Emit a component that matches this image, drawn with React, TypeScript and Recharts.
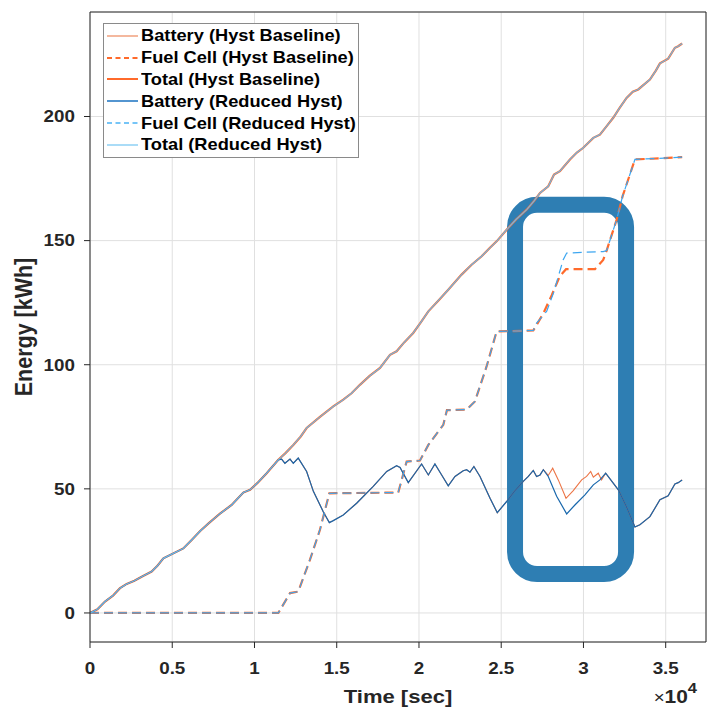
import React from "react";
import {
  LineChart,
  Line,
  XAxis,
  YAxis,
  CartesianGrid,
  Legend,
  ReferenceArea,
} from "recharts";

// [time (s), energy (kWh)]
const totalEnergy: [number, number][] = [
  [0, 0], [450, 1.5], [912, 4.6], [1400, 7], [1824, 10], [2230, 11.7], [2700, 13],
  [3140, 14.6], [3750, 16.7], [4100, 19], [4460, 22], [5065, 24], [5670, 26],
  [6180, 29.4], [6700, 33], [7190, 36], [7900, 40], [8610, 43.5], [9320, 48.5],
  [9730, 49.6], [10200, 52.5], [10740, 56.3], [11450, 61.7], [11900, 64.5],
  [12360, 67.7], [12800, 71], [13170, 74.5], [13980, 79], [14790, 83.2],
  [15400, 85.9], [15900, 88.5], [16410, 91.9], [17000, 95.5], [17630, 98.7],
  [18240, 104], [18640, 105.4], [19100, 109], [19650, 112.8], [20100, 117],
  [20570, 121.5], [21200, 126], [21780, 130.2], [22590, 136.3], [23200, 140.3],
  [23810, 143.7], [24300, 147], [24720, 149.7], [25330, 154.4], [25900, 158.5],
  [26550, 162.5], [27000, 166], [27360, 169.2], [27860, 171.9], [28210, 176.6],
  [28570, 178], [29180, 182.7], [29600, 185.5], [29990, 187.4], [30600, 191.4],
  [31000, 192.7], [31400, 196], [31810, 199.5], [32200, 203.5], [32620, 207.5],
  [33000, 210], [33330, 210.9], [34040, 214.9], [34400, 218.5], [34650, 221.4],
  [35150, 223.3], [35560, 227.7], [35760, 228.3], [36000, 229.4],
];

// battery after the fuel cell switches on (reduced hysteresis)
const batteryAfterFuelCell: [number, number][] = [
  [11450, 61.7], [11650, 62], [11850, 60.3], [12160, 62], [12360, 60.3],
  [12660, 62.4], [13170, 57], [13580, 49], [14180, 40.8], [14550, 36.4],
  [14790, 37.2], [15400, 39.5], [16210, 44.2], [17220, 51], [18040, 57],
  [18640, 59.3], [18850, 58.6], [19350, 52.5], [20160, 60], [20570, 55.6],
  [20970, 60], [21380, 55.6], [21780, 51.2], [22190, 55], [22690, 57.3],
  [22900, 57.7], [23100, 56.7], [23340, 59], [23710, 55], [24320, 46.2],
  [24760, 40.4], [25330, 44.9], [25800, 49], [26340, 53], [26650, 55],
  [26950, 57.4], [27150, 55], [27360, 55.6], [27560, 57.7], [27860, 55],
  [28370, 47], [28980, 39.9], [29480, 43.5], [30090, 47.6], [30600, 51.6],
  [31000, 53.6], [31350, 56.3], [31810, 52.3], [32120, 49.6], [32600, 43],
  [33130, 34.6], [33430, 35.5], [34040, 38.8], [34650, 45.6], [35150, 47.2],
  [35560, 52], [35760, 52.5], [36000, 53.6],
];

// where the baseline battery differs from the reduced one
const batteryBaselineDiff: [number, number][] = [
  [27560, 57.7], [27860, 55.4], [28130, 58.3], [28470, 53.6], [28940, 46.2],
  [29380, 49.3], [29890, 53.6], [30190, 55], [30440, 57], [30600, 54.7],
  [30900, 56.3], [31100, 53.6], [31350, 56.3],
];

const fuelCellShared: [number, number][] = [
  [0, 0], [11450, 0], [12160, 8], [12660, 8.6], [13370, 21.4], [13980, 33.5],
  [14550, 48.2], [18740, 48.5], [19250, 61], [20060, 61.4], [20570, 67.7],
  [21480, 75.8], [21700, 81.7], [22900, 81.9], [23400, 85.2], [24110, 99.3],
  [24720, 113.4], [26950, 113.8],
];
const fuelCellBaselineMid: [number, number][] = [
  [27150, 116], [27560, 120.7], [28070, 128], [28570, 135.7], [28940, 138.5],
  [30700, 138.5], [31200, 142.2],
];
const fuelCellReducedMid: [number, number][] = [
  [27150, 116.8], [27760, 121.5], [28170, 128.8], [28770, 142.3], [28980, 145],
  [31200, 145.6],
];
const fuelCellTail: [number, number][] = [
  [31410, 146], [32020, 158.5], [32380, 167.9], [33130, 182.7], [36000, 183.6],
];

const xTicks = [0, 5000, 10000, 15000, 20000, 25000, 30000, 35000];
const yTicks = [0, 50, 100, 150, 200];

const toRows = (pts: [number, number][]) => pts.map(([t, e]) => ({ t, e }));

const batteryReduced = [
  ...totalEnergy.filter(([t]) => t < 11450),
  ...batteryAfterFuelCell,
];
const batteryBaseline = [
  ...batteryReduced.filter(([t]) => t < 27560),
  ...batteryBaselineDiff,
  ...batteryReduced.filter(([t]) => t > 31350),
];
const fuelBaseline = [...fuelCellShared, ...fuelCellBaselineMid, ...fuelCellTail];
const fuelReduced = [...fuelCellShared, ...fuelCellReducedMid, ...fuelCellTail];

const FONT = "'Liberation Sans', Arial, sans-serif";
const AXIS = "#262626";
const X_DOMAIN = [0, 37450];
const Y_DOMAIN = [-11.7, 242.1];

// drawn in this order, last on top
const series = [
  { name: "Battery (Hyst Baseline)", color: "#EC7445", width: 1.1, dash: undefined, legendColor: "#F0A07E", data: batteryBaseline },
  { name: "Fuel Cell (Hyst Baseline)", color: "#FF6A2B", width: 2.2, dash: "9 5", legendColor: "#FF6A2B", data: fuelBaseline },
  { name: "Total (Hyst Baseline)", color: "#FF6A2B", width: 2.2, dash: undefined, legendColor: "#FF6A2B", data: totalEnergy },
  { name: "Battery (Reduced Hyst)", color: "#1867AC", width: 1.2, dash: undefined, legendColor: "#1A72C0", data: batteryReduced },
  { name: "Fuel Cell (Reduced Hyst)", color: "#3DA6F0", width: 1.2, dash: "9 5", legendColor: "#49B2F5", data: fuelReduced },
  { name: "Total (Reduced Hyst)", color: "#6FB7E6", width: 1.2, dash: undefined, legendColor: "#8ED0F5", data: totalEnergy },
];

const LegendBox = () => (
  <div
    style={{
      background: "white",
      border: "1px solid #8a8a8a",
      width: 254,
      padding: "1px 0",
      fontFamily: FONT,
      fontWeight: "bold",
      fontSize: 16.3,
      color: "#000",
    }}
  >
    {series.map((s) => (
      <div key={s.name} style={{ display: "flex", alignItems: "center", height: 21.8 }}>
        <svg width={37} height={6} style={{ flex: "none" }}>
          <line
            x1={3}
            x2={34}
            y1={3}
            y2={3}
            stroke={s.legendColor}
            strokeWidth={s.width > 2 ? 2 : 1.5}
            strokeDasharray={s.dash ? "5 3.5" : undefined}
          />
        </svg>
        <span
          style={{
            whiteSpace: "nowrap",
            display: "inline-block",
            transform: "scaleX(1.12)",
            transformOrigin: "left center",
          }}
        >
          {s.name}
        </span>
      </div>
    ))}
  </div>
);

// tick labels are a touch wider than plain Arial in the original
const XTick = ({ x, y, payload }: any) => (
  <g transform={`translate(${x},${y})`}>
    <text transform="scale(1.14,1)" textAnchor="middle" dy="0.71em" fontFamily={FONT} fontWeight="bold" fontSize={16.5} fill={AXIS}>
      {String(payload.value / 10000)}
    </text>
  </g>
);

const YTick = ({ x, y, payload }: any) => (
  <g transform={`translate(${x},${y})`}>
    <text transform="scale(1.14,1)" textAnchor="end" dy="0.355em" fontFamily={FONT} fontWeight="bold" fontSize={16.5} fill={AXIS}>
      {payload.value}
    </text>
  </g>
);

const XLabel = ({ viewBox }: any) => {
  const { x, y, width } = viewBox;
  const cx = x + width / 2;
  return (
    <g fontFamily={FONT} fill={AXIS}>
      <g transform={`translate(${cx},${y + 61}) scale(1.16,1)`}>
        <text textAnchor="middle" fontSize={19} fontWeight="bold">
          Time [sec]
        </text>
      </g>
      <g transform={`translate(${x + width - 9},${y + 61}) scale(1.1,1)`}>
        <text textAnchor="end" fontSize={19}>
          <tspan fontSize={17}>×</tspan>
          <tspan fontWeight="bold">10</tspan>
          <tspan fontWeight="bold" fontSize={15} dy={-10}>4</tspan>
        </text>
      </g>
    </g>
  );
};

const YLabel = ({ viewBox }: any) => {
  const { y, height } = viewBox;
  const cx = 32;
  const cy = y + height / 2;
  return (
    <g transform={`translate(${cx},${cy}) scale(1.1,1) rotate(-90)`}>
      <text textAnchor="middle" fontFamily={FONT} fontWeight="bold" fontSize={21.5} fill={AXIS}>
        Energy [kWh]
      </text>
    </g>
  );
};

export default function App() {
  return (
    <div style={{ position: "absolute", left: 0, top: 0, background: "white" }}>
      <LineChart width={707} height={711} margin={{ top: 11, right: 0, left: 0, bottom: 0 }}>
        <CartesianGrid stroke="#e0e0e0" />
        <XAxis
          type="number"
          dataKey="t"
          domain={X_DOMAIN}
          ticks={xTicks}
          allowDataOverflow
          height={69}
          tickSize={6}
          tickMargin={14}
          stroke={AXIS}
          tick={<XTick />}
          label={{ content: XLabel }}
        />
        <XAxis
          xAxisId="top"
          orientation="top"
          type="number"
          domain={X_DOMAIN}
          ticks={xTicks}
          allowDataOverflow
          height={1}
          tickSize={6}
          stroke={AXIS}
          tick={false}
        />
        <YAxis
          type="number"
          domain={Y_DOMAIN}
          ticks={yTicks}
          allowDataOverflow
          width={90}
          tickSize={6}
          tickMargin={9}
          stroke={AXIS}
          tick={<YTick />}
          label={{ content: YLabel }}
        />
        <YAxis
          yAxisId="right"
          orientation="right"
          type="number"
          domain={Y_DOMAIN}
          ticks={yTicks}
          allowDataOverflow
          width={1}
          tickSize={6}
          stroke={AXIS}
          tick={false}
        />
        {series.map((s) => (
          <Line
            key={s.name}
            name={s.name}
            data={toRows(s.data)}
            dataKey="e"
            type="linear"
            stroke={s.color}
            strokeWidth={s.width}
            strokeDasharray={s.dash}
            dot={false}
            activeDot={false}
            isAnimationActive={false}
          />
        ))}
        <ReferenceArea
          x1={25840}
          x2={32590}
          y1={15.7}
          y2={164.4}
          ifOverflow="visible"
          shape={(p: any) => (
            <rect
              x={p.x}
              y={p.y}
              width={p.width}
              height={p.height}
              rx={22}
              ry={22}
              fill="none"
              stroke="#2E7EB3"
              strokeWidth={16}
            />
          )}
        />
        <Legend
          layout="vertical"
          align="center"
          verticalAlign="middle"
          content={() => <LegendBox />}
          wrapperStyle={{ left: 103, top: 23, width: "auto", height: "auto" }}
        />
      </LineChart>
    </div>
  );
}
